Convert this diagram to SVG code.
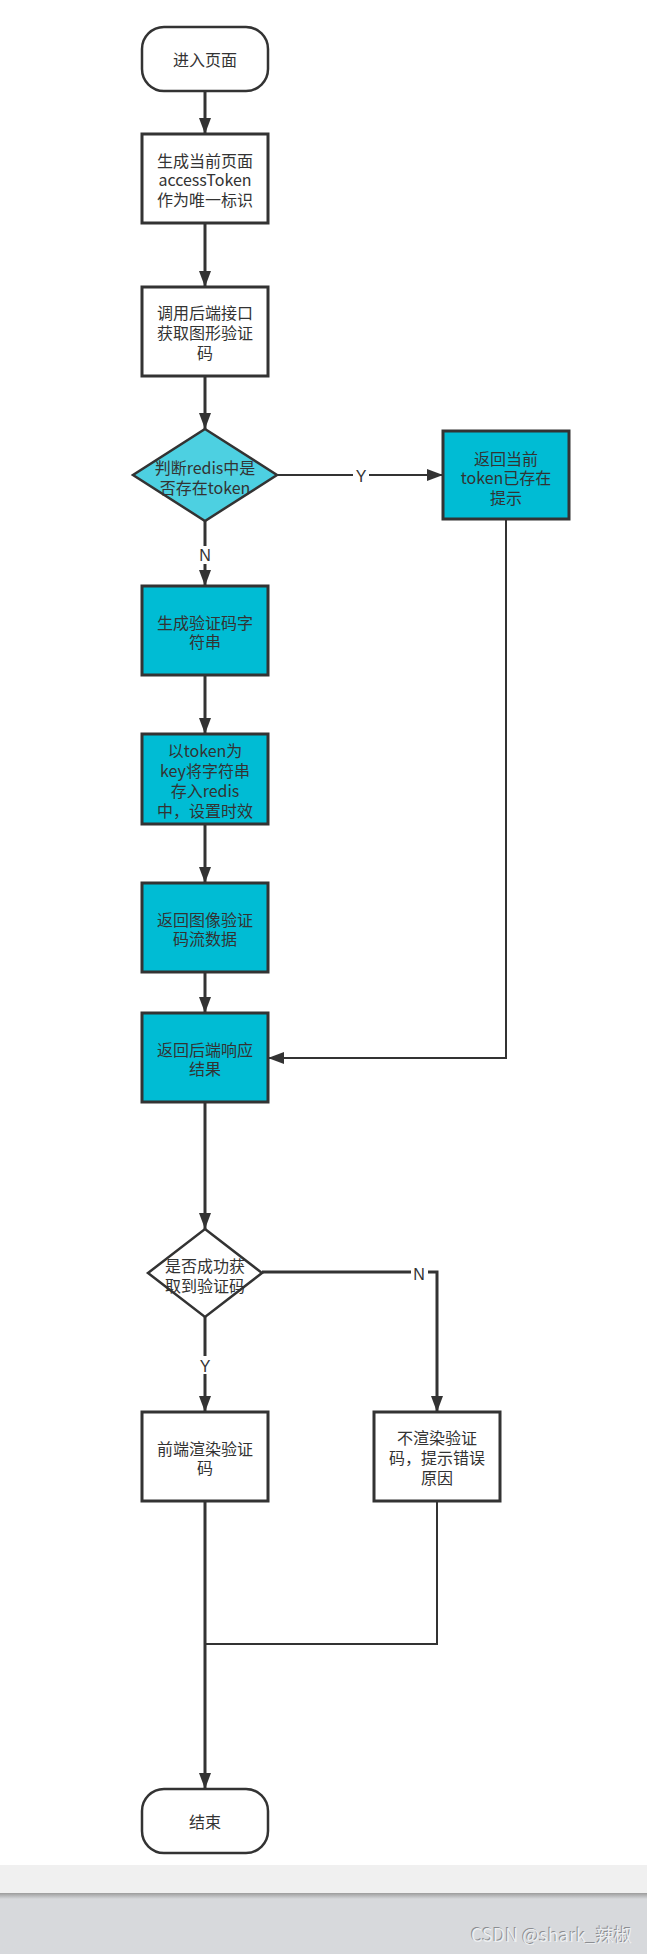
<svg xmlns="http://www.w3.org/2000/svg" width="647" height="1954" viewBox="0 0 647 1954">
<style>
.t{font-family:"Noto Sans CJK SC","Noto Sans",sans-serif;font-size:16px;fill:#333;text-anchor:middle;dominant-baseline:central}
.term{fill:#fff;stroke:#333;stroke-width:2.5}
.box{fill:#fff;stroke:#333;stroke-width:3}
.cy{fill:#00bcd4;stroke:#333;stroke-width:3}
.dia{stroke:#333;stroke-width:2.5}
.c{fill:none;stroke:#333;stroke-width:3}
.c2{fill:none;stroke:#333;stroke-width:2}
.lbl{font-family:"Liberation Sans",Arial,sans-serif;font-size:16px;fill:#333;text-anchor:middle;dominant-baseline:central}
</style>
<defs>
<marker id="ah" markerUnits="userSpaceOnUse" markerWidth="17" markerHeight="12" refX="16" refY="6" orient="auto">
<path d="M0,0 L16,6 L0,12 z" fill="#333"/>
</marker>
<linearGradient id="sh" x1="0" y1="0" x2="0" y2="1">
<stop offset="0" stop-color="#9c9c9c"/>
<stop offset="1" stop-color="#d7d9dc"/>
</linearGradient>
</defs>
<rect width="647" height="1954" fill="#fff"/>
<g id="connectors">
<line class="c" x1="205" y1="91" x2="205" y2="134" marker-end="url(#ah)"/>
<line class="c" x1="205" y1="223" x2="205" y2="287" marker-end="url(#ah)"/>
<line class="c" x1="205" y1="376" x2="205" y2="429" marker-end="url(#ah)"/>
<line class="c2" x1="277" y1="475" x2="443" y2="475" marker-end="url(#ah)"/>
<rect x="353" y="466" width="16" height="18" fill="#fff"/>
<text class="lbl" x="361" y="476">Y</text>
<line class="c" x1="205" y1="521" x2="205" y2="586" marker-end="url(#ah)"/>
<rect x="197" y="546" width="16" height="18" fill="#fff"/>
<text class="lbl" x="205" y="555">N</text>
<line class="c" x1="205" y1="675" x2="205" y2="734" marker-end="url(#ah)"/>
<line class="c" x1="205" y1="824" x2="205" y2="883" marker-end="url(#ah)"/>
<line class="c" x1="205" y1="972" x2="205" y2="1013" marker-end="url(#ah)"/>
<polyline class="c2" points="506,519 506,1058 268,1058" marker-end="url(#ah)"/>
<line class="c" x1="205" y1="1102" x2="205" y2="1229" marker-end="url(#ah)"/>
<polyline class="c" points="262,1272 437,1272 437,1412" marker-end="url(#ah)"/>
<rect x="411" y="1263" width="17" height="18" fill="#fff"/>
<text class="lbl" x="419" y="1274">N</text>
<line class="c" x1="205" y1="1317" x2="205" y2="1412" marker-end="url(#ah)"/>
<rect x="197" y="1356" width="16" height="18" fill="#fff"/>
<text class="lbl" x="205" y="1366">Y</text>
<line class="c" x1="205" y1="1501" x2="205" y2="1789" marker-end="url(#ah)"/>
<polyline class="c2" points="437,1501 437,1644 205,1644"/>
</g>
<g id="start">
<rect class="term" x="142" y="27" width="126" height="64" rx="22"/>
<text class="t" x="205" y="59">进入页面</text>
</g>
<g id="gen-token">
<rect class="box" x="142" y="134" width="126" height="89"/>
<text class="t" x="205" y="160">生成当前页面</text>
<text class="t" x="205" y="179">accessToken</text>
<text class="t" x="205" y="199">作为唯一标识</text>
</g>
<g id="call-api">
<rect class="box" x="142" y="287" width="126" height="89"/>
<text class="t" x="205" y="312">调用后端接口</text>
<text class="t" x="205" y="332">获取图形验证</text>
<text class="t" x="205" y="352">码</text>
</g>
<g id="check-redis">
<polygon class="dia" fill="#4dd0e1" points="205,429 277,475 205,521 133,475"/>
<text class="t" x="205" y="467">判断redis中是</text>
<text class="t" x="205" y="487">否存在token</text>
</g>
<g id="token-exists">
<rect class="cy" x="443" y="431" width="126" height="88"/>
<text class="t" x="506" y="458">返回当前</text>
<text class="t" x="506" y="477">token已存在</text>
<text class="t" x="506" y="497">提示</text>
</g>
<g id="gen-code">
<rect class="cy" x="142" y="586" width="126" height="89"/>
<text class="t" x="205" y="622">生成验证码字</text>
<text class="t" x="205" y="641">符串</text>
</g>
<g id="store-redis">
<rect class="cy" x="142" y="734" width="126" height="90"/>
<text class="t" x="205" y="750">以token为</text>
<text class="t" x="205" y="770">key将字符串</text>
<text class="t" x="205" y="790">存入redis</text>
<text class="t" x="205" y="810">中，设置时效</text>
</g>
<g id="return-image">
<rect class="cy" x="142" y="883" width="126" height="89"/>
<text class="t" x="205" y="919">返回图像验证</text>
<text class="t" x="205" y="938">码流数据</text>
</g>
<g id="return-result">
<rect class="cy" x="142" y="1013" width="126" height="89"/>
<text class="t" x="205" y="1049">返回后端响应</text>
<text class="t" x="205" y="1068">结果</text>
</g>
<g id="check-success">
<polygon class="dia" fill="#fff" points="205,1229 262,1273 205,1317 148,1273"/>
<text class="t" x="205" y="1265">是否成功获</text>
<text class="t" x="205" y="1285">取到验证码</text>
</g>
<g id="render">
<rect class="box" x="142" y="1412" width="126" height="89"/>
<text class="t" x="205" y="1448">前端渲染验证</text>
<text class="t" x="205" y="1467">码</text>
</g>
<g id="no-render">
<rect class="box" x="374" y="1412" width="126" height="89"/>
<text class="t" x="437" y="1437">不渲染验证</text>
<text class="t" x="437" y="1457">码，提示错误</text>
<text class="t" x="437" y="1477">原因</text>
</g>
<g id="end">
<rect class="term" x="142" y="1789" width="126" height="64" rx="22"/>
<text class="t" x="205" y="1821">结束</text>
</g>
<g id="footer">
<rect x="0" y="1865" width="647" height="28" fill="#f0f0f0"/>
<rect x="0" y="1893" width="647" height="61" fill="#d7d9dc"/>
<rect x="0" y="1893" width="647" height="6" fill="url(#sh)"/>
<text x="470" y="1941" font-family="Noto Sans CJK SC,Noto Sans,sans-serif" font-size="18" fill="#8c8e92" textLength="161" lengthAdjust="spacingAndGlyphs">CSDN @shark_辣椒</text>
<text x="471" y="1942" font-family="Noto Sans CJK SC,Noto Sans,sans-serif" font-size="18" fill="#eceef0" textLength="161" lengthAdjust="spacingAndGlyphs">CSDN @shark_辣椒</text>
</g>
</svg>
